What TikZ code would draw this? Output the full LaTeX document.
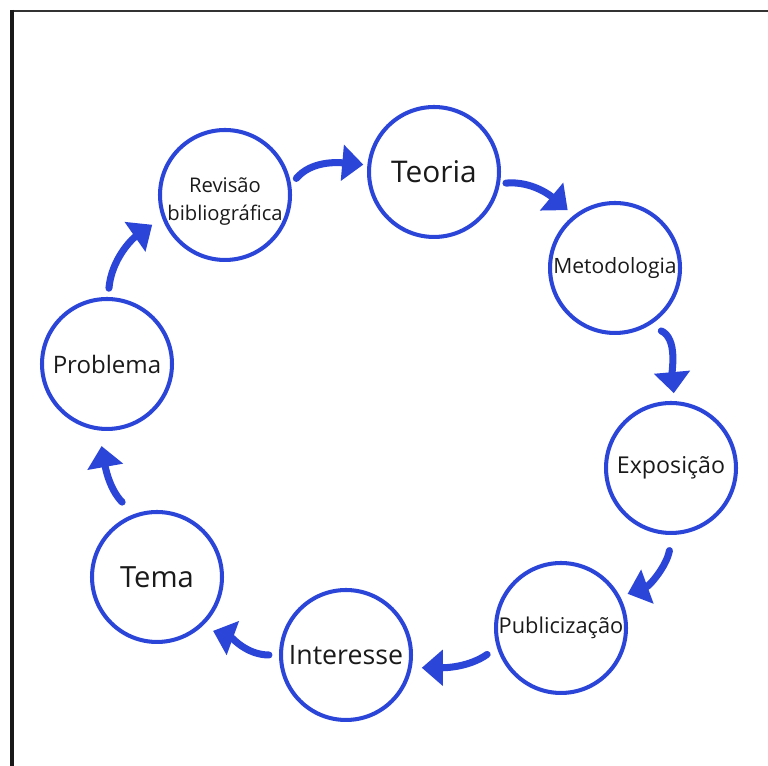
\documentclass[tikz,border=0pt]{standalone}
\usepackage{fontspec}
\setmainfont{Open Sans}
\usepackage{xcolor}
\usepackage{tikz}
\usetikzlibrary{arrows.meta}
\definecolor{azulciclo}{HTML}{2B45D8}
\definecolor{textociclo}{HTML}{1A1A1A}
\tikzset{
  etapa/.style={circle, draw=azulciclo, line width=2.3pt, minimum size=2.6cm,
    inner sep=0pt, align=center, text=textociclo},
  flecha/.style={draw=azulciclo, line width=4pt, line cap=round,
    -{Triangle[length=12pt,width=20pt]}}
}

\begin{document}
\begin{tikzpicture}[x=0.02cm,y=0.02cm]
\useasboundingbox (0,0) rectangle (768,766);
% moldura
\draw [line width=0.6pt, black!80] (10,755) -- (768,755);
\draw [line width=2.3pt, black!90] (12,756) -- (12,0);
% etapas do ciclo
\node [etapa, font=\fontsize{11.5}{16}\selectfont] (rev) at (225,571) {\rule{0pt}{16pt}Revisão\\bibliográfica};
\node [etapa, font=\fontsize{17}{20}\selectfont] (teo) at (434,594) {Teoria};
\node [etapa, font=\fontsize{12}{14}\selectfont] (met) at (615,498) {Metodologia};
\node [etapa, font=\fontsize{13.2}{15}\selectfont] (exp) at (671,298) {Exposição};
\node [etapa, font=\fontsize{12.4}{14}\selectfont] (pub) at (561,138) {Publicização};
\node [etapa, font=\fontsize{15.2}{18}\selectfont] (int) at (346,111) {Interesse};
\node [etapa, font=\fontsize{16.6}{20}\selectfont] (tem) at (157,189) {Tema};
\node [etapa, font=\fontsize{13.7}{16}\selectfont] (pro) at (107,402) {Problema};
% setas
\draw [flecha, shorten <=4.5pt, shorten >=2.3pt] (rev.9) to [out=50,in=175] (teo.174);
\draw [flecha, shorten <=3.4pt, shorten >=4.5pt] (teo.-10) to [out=5,in=140] (met.128);
\draw [flecha, shorten <=7.4pt, shorten >=4.5pt] (met.-59) to [out=-25,in=95] (exp.87);
\draw [flecha, shorten <=9pt, shorten >=4.5pt] (exp.-89) to [out=-100,in=20] (pub.28);
\draw [flecha, shorten <=6.8pt, shorten >=5.7pt] (pub.197) to [out=215,in=0] (int.-11);
\draw [flecha, shorten <=5.7pt, shorten >=6.8pt] (int.180) to [out=180,in=-20] (tem.-48);
\draw [flecha, shorten <=9.6pt, shorten >=9pt] (tem.110) to [out=135,in=-80] (pro.-97);
\draw [flecha, shorten <=5pt, shorten >=6.8pt] (pro.89) to [out=85,in=215] (rev.200);
\end{tikzpicture}
\end{document}
